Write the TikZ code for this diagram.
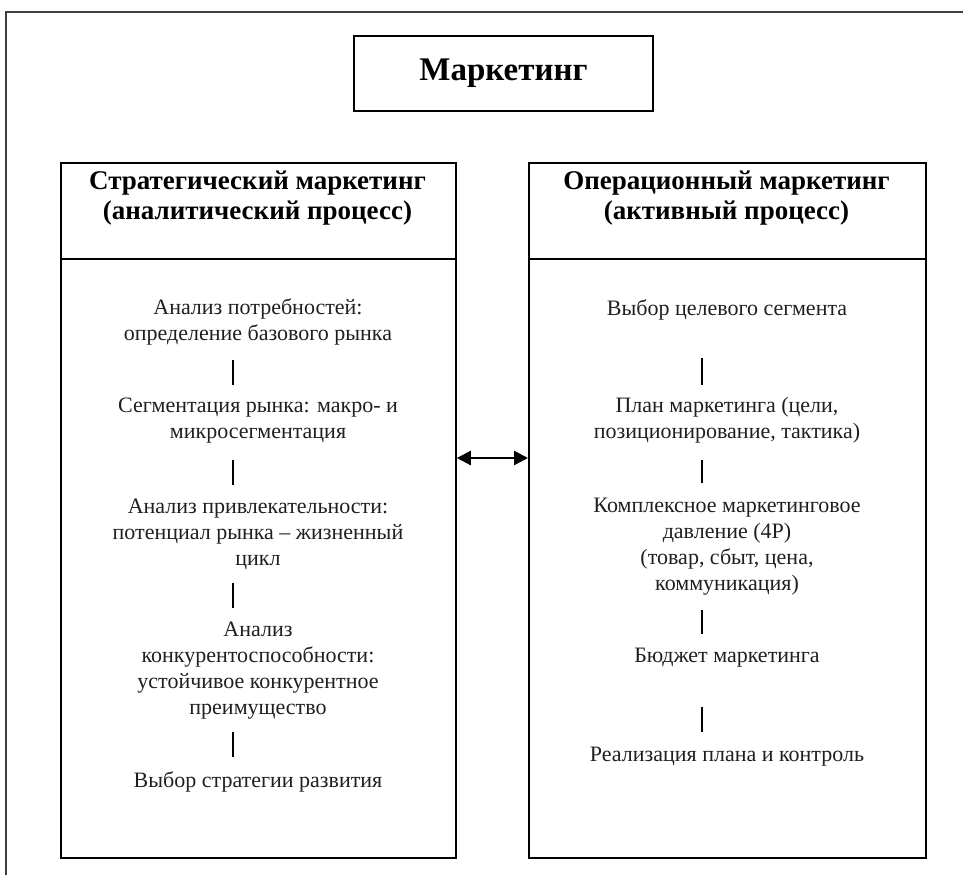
\documentclass[tikz,border=0pt]{standalone}
\usepackage{fontspec}
\setmainfont{Liberation Serif}
\usetikzlibrary{arrows.meta}
\tikzset{
  boxline/.style={draw=black, line width=1.8pt},
  frameline/.style={draw=black!75, line width=2pt},
  bodytext/.style={align=center, font=\fontsize{22}{26}\selectfont, text=black!88, inner sep=0pt},
  headtext/.style={align=center, font=\bfseries\fontsize{27}{30}\selectfont, inner sep=0pt},
  barline/.style={draw=black, line width=2.4pt},
  linkarrow/.style={line width=2.4pt, {Triangle[length=14pt,width=14pt]}-{Triangle[length=14pt,width=14pt]}}
}
\begin{document}
\begin{tikzpicture}[x=1pt,y=-1pt]
\useasboundingbox (0,0) rectangle (963,875);
% outer frame
\coordinate (fA) at (6,875);
\coordinate (fB) at (6,12);
\coordinate (fC) at (964,12);
\draw[frameline] (fA) -- (fB) -- (fC);
% title
\node[boxline, minimum width=299pt, minimum height=75pt, font=\bfseries\fontsize{33}{36}\selectfont, inner sep=0pt] (title) at (503.5,73.5) {\raisebox{3pt}{Маркетинг}};
% left column
\node[boxline, minimum width=395pt, minimum height=96pt, anchor=north west] (Lh) at (60,162) {};
\node[boxline, minimum width=395pt, minimum height=599pt, anchor=north west] (Lb) at (60,258) {};
\node[headtext] (Lht) at (257.5,198) {Стратегический маркетинг\\(аналитический процесс)};
% right column
\node[boxline, minimum width=397pt, minimum height=96pt, anchor=north west] (Rh) at (528,162) {};
\node[boxline, minimum width=397pt, minimum height=599pt, anchor=north west] (Rb) at (528,258) {};
\node[headtext] (Rht) at (726.5,198) {Операционный маркетинг\\(активный процесс)};
% left texts
\node[bodytext] (l1) at (258,321.5) {Анализ потребностей:\\определение базового рынка};
\node[bodytext] (l2) at (258,421) {Сегментация рынка: макро- и\\микросегментация};
\node[bodytext] (l3) at (258,534.5) {Анализ привлекательности:\\потенциал рынка – жизненный\\цикл};
\node[bodytext] (l4) at (258,671) {Анализ\\конкурентоспособности:\\устойчивое конкурентное\\преимущество};
\node[bodytext] (l5) at (258,782) {Выбор стратегии развития};
% right texts
\node[bodytext] (r1) at (727,310) {Выбор целевого сегмента};
\node[bodytext] (r2) at (727,420.5) {План маркетинга (цели,\\позиционирование, тактика)};
\node[bodytext] (r3) at (727,546.5) {Комплексное маркетинговое\\давление (4Р)\\(товар, сбыт, цена,\\коммуникация)};
\node[bodytext] (r4) at (727,658) {Бюджет маркетинга};
\node[bodytext] (r5) at (727,757) {Реализация плана и контроль};
% bars left
\coordinate (lb1a) at (233,360); \coordinate (lb1b) at (233,385);
\coordinate (lb2a) at (233,460); \coordinate (lb2b) at (233,485);
\coordinate (lb3a) at (233,583); \coordinate (lb3b) at (233,608);
\coordinate (lb4a) at (233,732); \coordinate (lb4b) at (233,757);
\draw[barline] (lb1a) -- (lb1b);
\draw[barline] (lb2a) -- (lb2b);
\draw[barline] (lb3a) -- (lb3b);
\draw[barline] (lb4a) -- (lb4b);
% bars right
\coordinate (rb1a) at (702,358); \coordinate (rb1b) at (702,385);
\coordinate (rb2a) at (702,460); \coordinate (rb2b) at (702,483);
\coordinate (rb3a) at (702,610); \coordinate (rb3b) at (702,634);
\coordinate (rb4a) at (702,707); \coordinate (rb4b) at (702,732);
\draw[barline] (rb1a) -- (rb1b);
\draw[barline] (rb2a) -- (rb2b);
\draw[barline] (rb3a) -- (rb3b);
\draw[barline] (rb4a) -- (rb4b);
% link arrow
\coordinate (arrowy) at (0,458);
\draw[linkarrow] (Lb.east |- arrowy) -- (Rb.west |- arrowy);
\end{tikzpicture}
\end{document}
